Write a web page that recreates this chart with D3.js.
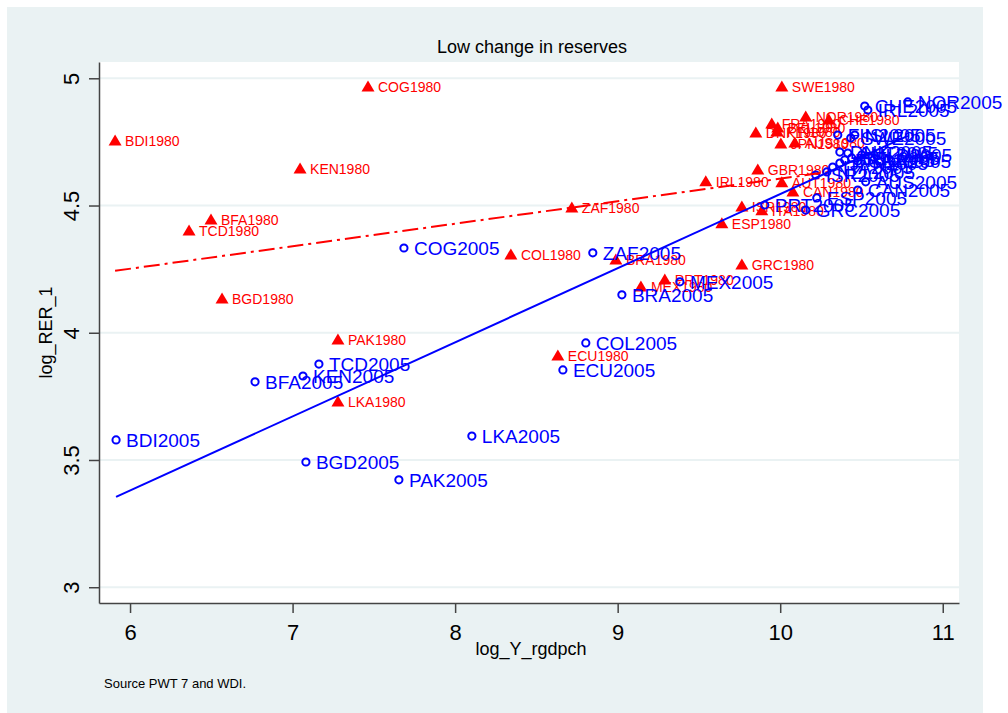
<!DOCTYPE html>
<html>
<head>
<meta charset="utf-8">
<script src="https://cdn.jsdelivr.net/npm/d3@7"></script>
<style>
  body { margin: 0; background: #fff; }
  text { font-family: "Liberation Sans", Arial, sans-serif; }
</style>
</head>
<body>
<div id="chart"></div>
<script>
// 1980 observations (red triangles)
var codes1980 = ["BDI","COG","KEN","BFA","TCD","BGD","PAK","LKA","ZAF","COL","BRA","ECU","MEX","PRT",
                 "GRC","ESP","IRL","GBR","ISR","ITA","AUT","CAN","SWE","NOR","CHE","FRA","BEL","DNK","FIN","AUS","JPN"];
var x1980 = [5.908,7.464,7.046,6.498,6.363,6.566,7.279,7.279,8.718,8.343,8.989,8.632,9.143,9.290,
             9.764,9.641,9.542,9.862,9.764,9.887,10.010,10.078,10.010,10.157,10.299,9.948,9.985,9.850,9.979,10.090,10.004];
var y1980 = [4.754,4.966,4.644,4.443,4.400,4.133,3.972,3.728,4.490,4.306,4.286,3.909,4.180,4.207,
             4.266,4.428,4.593,4.640,4.494,4.479,4.589,4.553,4.966,4.848,4.836,4.820,4.805,4.785,4.789,4.746,4.742];

// 2005 observations (blue hollow circles)
var codes2005 = ["BDI","BFA","KEN","TCD","BGD","PAK","LKA","COG","ZAF","BRA","COL","ECU","MEX","PRT",
                 "GRC","ESP","CAN","AUS","NZL","ISR","ITA","JPN","FRA","BEL","GBR","AUT","NLD","DNK","FIN","SWE","ISL","CHE","IRL","NOR"];
var x2005 = [5.914,6.769,7.064,7.162,7.082,7.654,8.103,7.685,8.847,9.026,8.804,8.663,9.383,9.905,
             10.157,10.225,10.477,10.526,10.287,10.219,10.323,10.367,10.397,10.440,10.477,10.416,10.502,10.367,10.354,10.434,10.459,10.520,10.539,10.785];
var y2005 = [3.579,3.807,3.830,3.877,3.492,3.422,3.594,4.333,4.314,4.149,3.960,3.854,4.200,4.502,
             4.482,4.530,4.561,4.593,4.632,4.620,4.651,4.667,4.679,4.687,4.675,4.706,4.699,4.710,4.777,4.765,4.777,4.891,4.875,4.907];

var xTicks = [6, 7, 8, 9, 10, 11];
var yTicks = [3, 3.5, 4, 4.5, 5];
var yTickLabels = ["3", "3.5", "4", "4.5", "5"];

var width = 1008, height = 713;
var plot = {left: 99, top: 62, right: 959, bottom: 603};

var svg = d3.select("#chart").append("svg")
  .attr("width", width)
  .attr("height", height);

svg.append("rect").attr("x", 0).attr("y", 0).attr("width", width).attr("height", height).attr("fill", "#fff");
svg.append("rect").attr("x", 7).attr("y", 7).attr("width", 976).attr("height", 706).attr("fill", "#eaf2f3");
svg.append("rect")
  .attr("x", plot.left).attr("y", plot.top)
  .attr("width", plot.right - plot.left).attr("height", plot.bottom - plot.top)
  .attr("fill", "#fff");

var x = d3.scaleLinear().domain([5.809, 11.1]).range([plot.left, plot.right]);
var y = d3.scaleLinear().domain([2.938, 5.064]).range([plot.bottom, plot.top]);

// grid lines
svg.append("g").selectAll("line")
  .data(yTicks)
  .enter().append("line")
  .attr("x1", plot.left).attr("x2", plot.right)
  .attr("y1", function(d) { return y(d); })
  .attr("y2", function(d) { return y(d); })
  .attr("stroke", "#eaf2f3")
  .attr("stroke-width", 2);

// axes
var gx = svg.append("g")
  .attr("transform", "translate(0," + plot.bottom + ")")
  .call(d3.axisBottom(x).tickValues(xTicks).tickSize(10).tickSizeOuter(0).tickFormat(d3.format("d")));
gx.selectAll("text").attr("y", 37).attr("dy", 0).style("font-size", "22px").attr("fill", "#000");

var gy = svg.append("g")
  .attr("transform", "translate(" + plot.left + ",0)")
  .call(d3.axisLeft(y).tickValues(yTicks).tickSize(10).tickSizeOuter(0)
    .tickFormat(function(d, i) { return yTickLabels[i]; }));
gy.selectAll("text")
  .attr("x", 0).attr("y", 0).attr("dy", 0)
  .attr("text-anchor", "middle")
  .attr("transform", "translate(-20,0) rotate(-90)")
  .style("font-size", "22px").attr("fill", "#000");

[gx, gy].forEach(function(g) {
  g.select(".domain").attr("stroke", "#444").attr("stroke-width", 1.5);
  g.selectAll(".tick line").attr("stroke", "#444").attr("stroke-width", 1.5);
});

// titles
svg.append("text")
  .attr("x", (plot.left + plot.right) / 2 + 3).attr("y", 53)
  .attr("text-anchor", "middle")
  .style("font-size", "18px")
  .text("Low change in reserves");

svg.append("text")
  .attr("x", (plot.left + plot.right) / 2 + 2).attr("y", 655)
  .attr("text-anchor", "middle")
  .style("font-size", "18px")
  .text("log_Y_rgdpch");

svg.append("text")
  .attr("transform", "translate(52," + ((plot.top + plot.bottom) / 2) + ") rotate(-90)")
  .attr("text-anchor", "middle")
  .style("font-size", "18px")
  .text("log_RER_1");

svg.append("text")
  .attr("x", 104).attr("y", 688)
  .style("font-size", "13px")
  .text("Source PWT 7 and WDI.");

var pts1980 = codes1980.map(function(c, i) { return {code: c + "1980", x: x1980[i], y: y1980[i]}; });
var pts2005 = codes2005.map(function(c, i) { return {code: c + "2005", x: x2005[i], y: y2005[i]}; });

// red triangles
var g80 = svg.append("g");
g80.selectAll("path")
  .data(pts1980)
  .enter().append("path")
  .attr("d", "M0,-6.5L6.5,4.5L-6.5,4.5Z")
  .attr("transform", function(d) { return "translate(" + x(d.x) + "," + y(d.y) + ")"; })
  .attr("fill", "#ff0000");
g80.selectAll("text")
  .data(pts1980)
  .enter().append("text")
  .attr("x", function(d) { return x(d.x) + 10; })
  .attr("y", function(d) { return y(d.y) + 5; })
  .attr("fill", "#ff0000")
  .style("font-size", "14px")
  .text(function(d) { return d.code; });

// blue hollow circles
var g05 = svg.append("g");
g05.selectAll("circle")
  .data(pts2005)
  .enter().append("circle")
  .attr("cx", function(d) { return x(d.x); })
  .attr("cy", function(d) { return y(d.y); })
  .attr("r", 3.6)
  .attr("fill", "none")
  .attr("stroke", "#0000ff")
  .attr("stroke-width", 2);
g05.selectAll("text")
  .data(pts2005)
  .enter().append("text")
  .attr("x", function(d) { return x(d.x) + 10; })
  .attr("y", function(d) { return y(d.y) + 7; })
  .attr("fill", "#0000ff")
  .style("font-size", "19px")
  .text(function(d) { return d.code; });

// linear fits
function fit(pts) {
  var mx = d3.mean(pts, function(d) { return d.x; });
  var my = d3.mean(pts, function(d) { return d.y; });
  var sxy = d3.sum(pts, function(d) { return (d.x - mx) * (d.y - my); });
  var sxx = d3.sum(pts, function(d) { return (d.x - mx) * (d.x - mx); });
  var b = sxy / sxx, a = my - b * mx;
  var ext = d3.extent(pts, function(d) { return d.x; });
  return ext.map(function(v) { return [v, a + b * v]; });
}

var line = d3.line()
  .x(function(d) { return x(d[0]); })
  .y(function(d) { return y(d[1]); });

svg.append("path")
  .attr("d", line(fit(pts1980)))
  .attr("fill", "none")
  .attr("stroke", "#ff0000")
  .attr("stroke-width", 2)
  .attr("stroke-dasharray", "16,5,3,5");

svg.append("path")
  .attr("d", line(fit(pts2005)))
  .attr("fill", "none")
  .attr("stroke", "#0000ff")
  .attr("stroke-width", 2);
</script>
</body>
</html>
